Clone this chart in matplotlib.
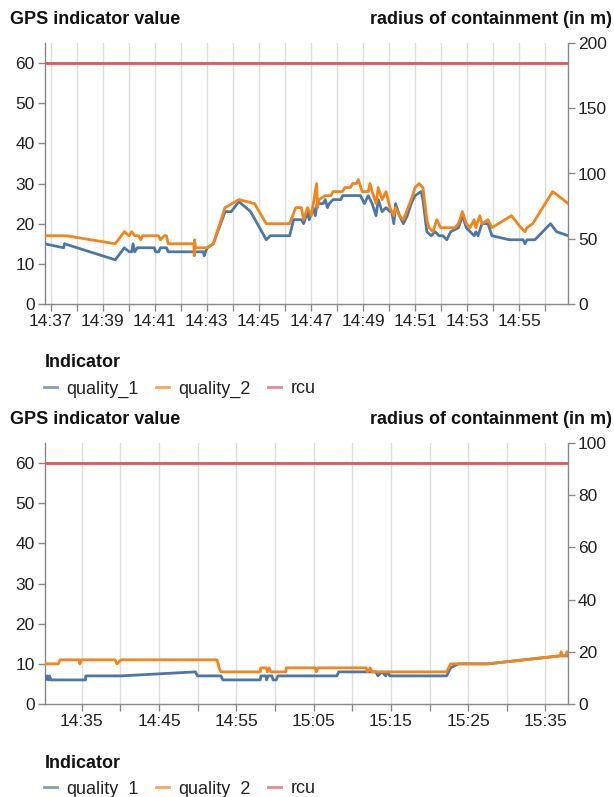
import matplotlib
matplotlib.use("Agg")
import matplotlib.pyplot as plt
import matplotlib.dates as mdates
import pandas as pd
from matplotlib.ticker import FixedLocator, FuncFormatter, MultipleLocator

plt.rcParams['font.family'] = ['Liberation Sans', 'DejaVu Sans']

DAY = "2021-06-01 "

# ---- first recording ----
top_q1_time = ["14:36:46", "14:37:30", "14:37:32", "14:39:29", "14:39:50", "14:40:01", "14:40:07",
               "14:40:10", "14:40:14", "14:40:20", "14:40:59", "14:41:02", "14:41:09", "14:41:13",
               "14:41:27", "14:41:31", "14:42:52", "14:42:54", "14:42:57", "14:43:01", "14:43:15",
               "14:43:42", "14:43:56", "14:44:14", "14:44:41", "14:45:17", "14:45:26", "14:46:11",
               "14:46:20", "14:46:38", "14:46:43", "14:46:52", "14:46:56", "14:47:05", "14:47:10",
               "14:47:14", "14:47:28", "14:47:33", "14:47:38", "14:47:42", "14:47:51", "14:48:09",
               "14:48:13", "14:48:54", "14:49:03", "14:49:12", "14:49:21", "14:49:30", "14:49:35",
               "14:49:44", "14:49:53", "14:50:02", "14:50:06", "14:50:11", "14:50:15", "14:50:24",
               "14:50:33", "14:50:42", "14:50:51", "14:51:00", "14:51:14", "14:51:18", "14:51:27",
               "14:51:37", "14:51:46", "14:51:55", "14:52:04", "14:52:13", "14:52:22", "14:52:40",
               "14:52:49", "14:52:58", "14:53:07", "14:53:16", "14:53:20", "14:53:25", "14:53:34",
               "14:53:48", "14:53:57", "14:54:37", "14:55:09", "14:55:13", "14:55:18", "14:55:36",
               "14:56:12", "14:56:26", "14:56:53"]
top_q1 = [15, 14, 15, 11, 14, 13, 13,
          15, 13, 14, 14, 13, 13, 14,
          14, 13, 13, 12, 13, 14, 15,
          23, 23, 25.5, 23, 16, 17, 17,
          21, 21, 20, 23, 21, 24, 22,
          25, 25, 26, 24, 25, 26, 26,
          27, 27, 25, 27, 25, 22, 26,
          23, 24, 23, 23, 20, 25, 22,
          20, 22, 25, 27, 28, 26, 18,
          17, 18, 17, 17, 16, 18, 19,
          22, 19, 18, 17, 18, 17, 20,
          20, 17, 16, 16, 15, 16, 16,
          20, 18, 17]

top_q2_time = ["14:36:46", "14:37:36", "14:39:29", "14:39:50", "14:40:01", "14:40:07", "14:40:14",
               "14:40:23", "14:40:28", "14:40:32", "14:41:09", "14:41:13", "14:41:22", "14:41:27",
               "14:41:31", "14:42:30", "14:42:31", "14:42:32", "14:42:34", "14:43:01", "14:43:15",
               "14:43:42", "14:44:14", "14:44:50", "14:45:17", "14:45:26", "14:46:11", "14:46:25",
               "14:46:38", "14:46:43", "14:46:52", "14:47:01", "14:47:13", "14:47:15", "14:47:19",
               "14:47:33", "14:47:46", "14:47:51", "14:48:13", "14:48:18", "14:48:31", "14:48:36",
               "14:48:45", "14:48:49", "14:48:58", "14:49:12", "14:49:16", "14:49:21", "14:49:30",
               "14:49:35", "14:49:44", "14:49:53", "14:50:02", "14:50:11", "14:50:15", "14:50:24",
               "14:50:33", "14:50:51", "14:51:00", "14:51:09", "14:51:18", "14:51:27", "14:51:32",
               "14:51:41", "14:51:50", "14:51:59", "14:52:31", "14:52:40", "14:52:49", "14:52:58",
               "14:53:07", "14:53:16", "14:53:20", "14:53:29", "14:53:34", "14:53:48", "14:53:57",
               "14:54:42", "14:55:04", "14:55:13", "14:55:18", "14:55:31", "14:56:17", "14:56:53"]
top_q2 = [17, 17, 15, 18, 17, 18, 17,
          17, 16, 17, 17, 16, 17, 17,
          15, 15, 12, 16, 14, 14, 15,
          24, 26, 25, 20, 20, 20, 24,
          24, 21, 24, 22, 30, 24, 26,
          27, 27, 28, 28, 29, 29, 30,
          30, 31, 28, 28, 30, 28, 25,
          29, 26, 28, 24, 22, 24, 22,
          21, 26, 29, 30, 29, 21, 19,
          18, 21, 19, 19, 20, 23, 20,
          19, 21, 19, 22, 20, 21, 19,
          22, 19, 18, 19, 20, 28, 25]

top_rcu_time = ["14:36:46", "14:56:53"]
top_rcu = [60, 60]

# ---- second recording ----
bot_q1_time = ["14:30:11", "14:30:20", "14:30:30", "14:30:41", "14:30:50", "14:31:00", "14:31:12",
               "14:35:30", "14:35:31", "14:40:05", "14:49:43", "14:49:58", "14:53:01", "14:53:16",
               "14:58:06", "14:58:10", "14:58:51", "14:58:55", "14:59:07", "14:59:37", "14:59:45",
               "15:00:10", "15:00:23", "15:08:00", "15:08:15", "15:13:04", "15:13:19", "15:13:50",
               "15:14:20", "15:14:36", "15:14:51", "15:22:12", "15:22:28", "15:22:43", "15:23:44",
               "15:27:32", "15:36:56", "15:37:57"]
bot_q1 = [7, 6, 7, 6, 7, 6, 6,
          6, 7, 7, 8, 7, 7, 6,
          6, 7, 7, 6, 7, 7, 6,
          6, 7, 7, 8, 8, 7, 8,
          7, 8, 7, 7, 8, 9, 10,
          10, 12, 12]

bot_q2_time = ["14:30:11", "14:31:57", "14:32:12", "14:34:40", "14:34:45", "14:35:00", "14:39:19",
               "14:39:34", "14:40:05", "14:52:31", "14:52:46", "14:53:01", "14:58:06", "14:58:10",
               "14:58:51", "14:59:01", "14:59:16", "14:59:28", "15:01:24", "15:01:28", "15:05:12",
               "15:05:21", "15:05:33", "15:11:48", "15:11:57", "15:12:19", "15:12:34", "15:22:12",
               "15:22:28", "15:22:43", "15:27:32", "15:36:56", "15:37:01", "15:37:11", "15:37:41",
               "15:37:45", "15:37:57"]
bot_q2 = [10, 10, 11, 11, 10, 11, 11,
          10, 11, 11, 9, 8, 8, 9,
          9, 8, 9, 8, 8, 9, 9,
          8, 9, 9, 8, 9, 8, 8,
          9, 10, 10, 12, 13, 12, 12,
          13, 13]

bot_rcu_time = ["14:30:11", "15:37:57"]
bot_rcu = [60, 60]

BLUE = "#4c78a8"
ORANGE = "#f58518"
RED = "#e45756"
AXC = "#888888"
GRID = "#dddddd"

W, H = 614, 797


def to_dt(ts):
    return pd.to_datetime([DAY + t for t in ts])


def panel(fig, top_px, q1t, q1, q2t, q2, rt, rc, right_max, right_step, tick_every, label_every):
    ax = fig.add_axes([44.5 / W, (H - top_px - 261) / H, 523.8 / W, 261 / H])
    x1, x2, xr = to_dt(q1t), to_dt(q2t), to_dt(rt)
    l1, = ax.plot(x1, q1, color=BLUE, lw=2, label="quality_1", zorder=3)
    l2, = ax.plot(x2, q2, color=ORANGE, lw=2, label="quality_2", zorder=4)
    l3, = ax.plot(xr, rc, color=RED, lw=2, label="rcu", zorder=5)
    lo = min(x1.min(), x2.min(), xr.min())
    hi = max(x1.max(), x2.max(), xr.max())
    ax.set_xlim(lo, hi)
    ax.set_ylim(0, 65)
    ax.yaxis.set_major_locator(MultipleLocator(10))

    ticks = pd.date_range(lo.ceil(f"{tick_every}min"), hi, freq=f"{tick_every}min")
    ax.xaxis.set_major_locator(FixedLocator(mdates.date2num(ticks)))

    def fmt(v, pos):
        d = mdates.num2date(v)
        if d.minute % label_every[0] == label_every[1]:
            return d.strftime("%H:%M")
        return ""
    ax.xaxis.set_major_formatter(FuncFormatter(fmt))
    ax.grid(axis="x", color=GRID, lw=1, zorder=0)

    ax2 = ax.twinx()
    ax2.set_ylim(0, right_max)
    ax2.yaxis.set_major_locator(MultipleLocator(right_step))

    for a in (ax, ax2):
        for s in a.spines.values():
            s.set_visible(False)
        a.tick_params(colors=AXC, labelcolor="#222222", labelsize=12.5, length=5, width=1, pad=2)
    ax.spines["left"].set_visible(True)
    ax.spines["bottom"].set_visible(True)
    ax2.spines["right"].set_visible(True)
    for s in (ax.spines["left"], ax.spines["bottom"], ax2.spines["right"]):
        s.set_color(AXC)
        s.set_linewidth(1)
    ax.set_axisbelow(True)

    # titles above the axes
    fig.text(10 / W, 1 - (top_px - 23) / H, "GPS indicator value", fontsize=13, fontweight="bold",
             ha="left", va="center", color="#111111")
    fig.text(612 / W, 1 - (top_px - 23) / H, "radius of containment (in m)", fontsize=13,
             fontweight="bold", ha="right", va="center", color="#111111")

    # legend below
    fig.text(45 / W, 1 - (top_px + 320) / H, "Indicator", fontsize=13, fontweight="bold",
             ha="left", va="center", color="#111111")
    leg = fig.legend(handles=[l1, l2, l3], loc="center left",
                     bbox_to_anchor=(44 / W, 1 - (top_px + 346) / H), ncol=3, frameon=False,
                     fontsize=13, handlelength=0.7, handletextpad=0.55, columnspacing=0.95,
                     borderpad=0, borderaxespad=0)
    for h in leg.legend_handles:
        h.set_alpha(0.7)
    for t in leg.get_texts():
        t.set_color("#222222")
    return ax


fig = plt.figure(figsize=(W / 100, H / 100), dpi=100)
panel(fig, 43, top_q1_time, top_q1, top_q2_time, top_q2, top_rcu_time, top_rcu,
      200, 50, 1, (2, 1))
panel(fig, 443, bot_q1_time, bot_q1, bot_q2_time, bot_q2, bot_rcu_time, bot_rcu,
      100, 20, 5, (10, 5))
fig.savefig("out.png", dpi=100)
